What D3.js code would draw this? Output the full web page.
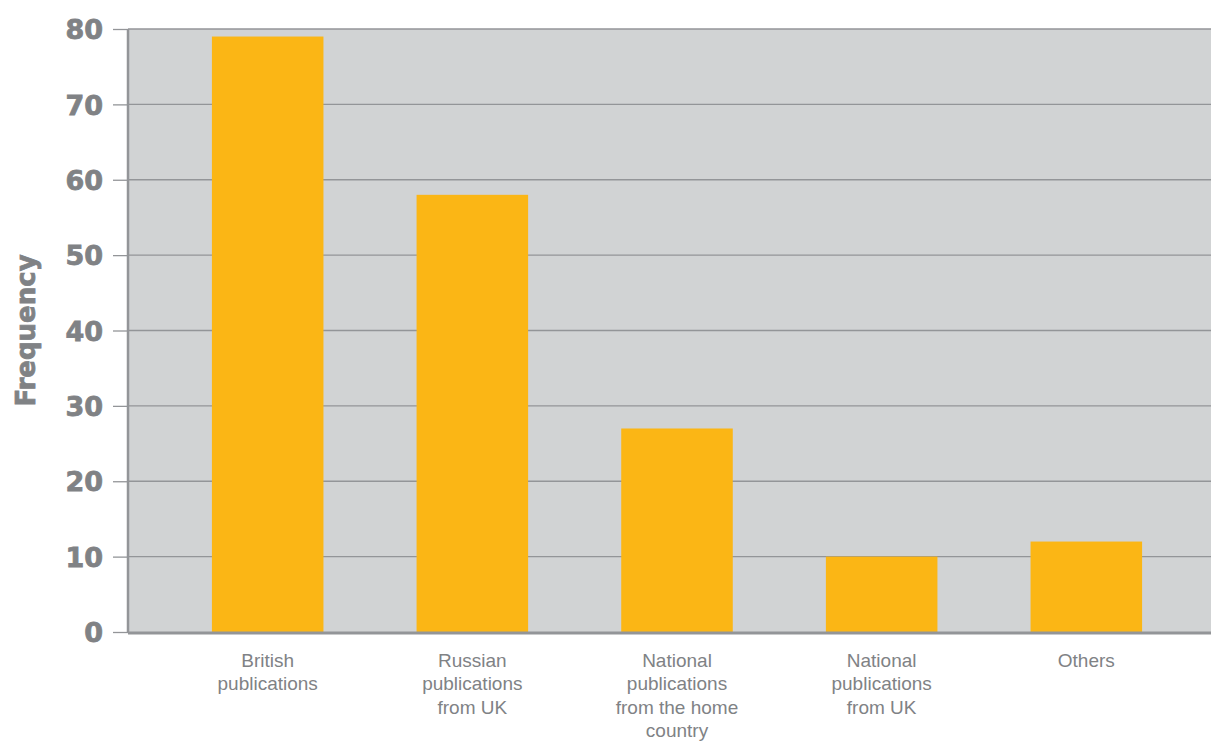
<!DOCTYPE html>
<html><head><meta charset="utf-8">
<script src="https://cdn.jsdelivr.net/npm/d3@7"></script>
<style>body{margin:0;background:#fff}svg{display:block}</style>
</head><body>
<svg id="chart" width="1211" height="742"></svg>
<script>
const categories = [
  ["British", "publications"],
  ["Russian", "publications", "from UK"],
  ["National", "publications", "from the home", "country"],
  ["National", "publications", "from UK"],
  ["Others"]
];
const values = [79, 58, 27, 10, 12];
const yTicks = [0, 10, 20, 30, 40, 50, 60, 70, 80];
const yLabel = "Frequency";

const svg = d3.select("#chart");
const W = 1211, H = 742;
const mLeft = 128, mTop = 29, mBottom = 632, rightExt = 1226;
const ids = categories.map((c, i) => i);

const x = d3.scaleBand().domain(ids).range([mLeft, rightExt]).paddingInner(0.455).paddingOuter(0.41);
const y = d3.scaleLinear().domain([0, 80]).range([mBottom, mTop]);

const gray = "#939598", txt = "#808285";
const boldFont = "'DejaVu Sans', 'Liberation Sans', sans-serif";
const lightFont = "'Liberation Sans', Arial, sans-serif";

svg.append("rect").attr("x", mLeft).attr("y", mTop).attr("width", W - mLeft).attr("height", mBottom - mTop).attr("fill", "#d1d3d4");

// gridlines
svg.append("g").selectAll("line").data(yTicks.filter(d => d > 0)).join("line")
  .attr("x1", mLeft).attr("x2", W).attr("y1", d => y(d)).attr("y2", d => y(d))
  .attr("stroke", gray).attr("stroke-width", 1.3);

// bars
svg.append("g").selectAll("rect").data(values).join("rect")
  .attr("x", (d, i) => x(i)).attr("width", x.bandwidth())
  .attr("y", d => y(d)).attr("height", d => y(0) - y(d))
  .attr("fill", "#fbb615");

// y axis
const yAxis = d3.axisLeft(y).tickValues(yTicks).tickSize(15).tickPadding(10).tickFormat(d3.format("d"));
const ga = svg.append("g").attr("transform", `translate(${mLeft},0)`).call(yAxis);
ga.select(".domain").attr("stroke", gray).attr("stroke-width", 2.5).attr("d", `M0,${mTop}V${mBottom}`);
ga.selectAll(".tick line").attr("stroke", gray).attr("stroke-width", 1.3);
ga.selectAll(".tick text").attr("fill", txt).attr("font-family", boldFont)
  .attr("font-weight", "bold").attr("font-size", 27).attr("dy", "0.36em")
  .attr("stroke", txt).attr("stroke-width", 0.8);

// x axis baseline
svg.append("line").attr("x1", mLeft).attr("x2", W).attr("y1", mBottom + 1).attr("y2", mBottom + 1)
  .attr("stroke", gray).attr("stroke-width", 3);

// category labels
const gl = svg.append("g").attr("font-family", lightFont).attr("font-size", 19).attr("fill", txt).attr("text-anchor", "middle");
categories.forEach((lines, i) => {
  const cx = x(i) + x.bandwidth() / 2;
  const t = gl.append("text").attr("x", cx).attr("y", 667);
  lines.forEach((l, j) => t.append("tspan").attr("x", cx).attr("dy", j === 0 ? 0 : 23.3).text(l));
});

// y label
svg.append("text").attr("transform", `translate(35,${(mTop + mBottom) / 2}) rotate(-90)`)
  .attr("text-anchor", "middle").attr("fill", txt).attr("font-family", boldFont)
  .attr("font-weight", "bold").attr("font-size", 26).attr("stroke", txt).attr("stroke-width", 0.8).text(yLabel);
</script>
</body></html>
